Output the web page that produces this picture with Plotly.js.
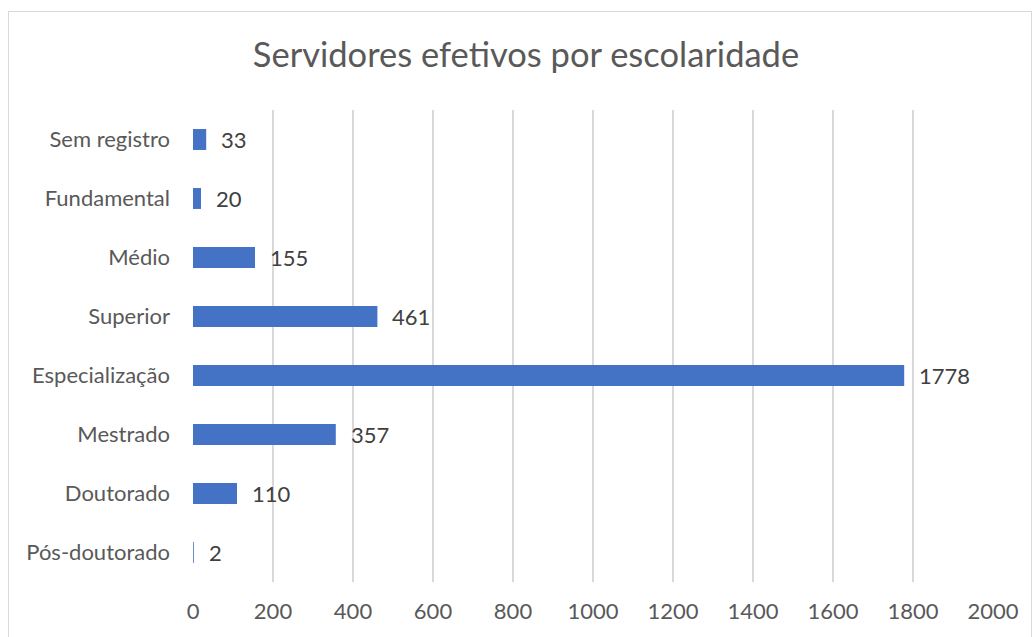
<!DOCTYPE html>
<html>
<head>
<meta charset="utf-8">
<script src="https://cdn.plot.ly/plotly-3.0.1.min.js"></script>
<style>
html,body{margin:0;padding:0;background:#fff;overflow:hidden;width:1034px;height:637px;}
#frame{position:absolute;left:8px;top:11px;width:1022px;height:640px;border:1px solid #d9d9d9;box-sizing:content-box;}
#chart{width:1022px;height:640px;}
</style>
</head>
<body>
<div id="frame"><div id="chart"></div></div>
<script>
const categories = ["Sem registro","Fundamental","Médio","Superior","Especialização","Mestrado","Doutorado","Pós-doutorado"];
const values = [33, 20, 155, 461, 1778, 357, 110, 2];
const xTicks = [0,200,400,600,800,1000,1200,1400,1600,1800,2000];
const titleText = "Servidores efetivos por escolaridade";

const font = "Lato, 'Open Sans', sans-serif";

const trace = {
  type: 'bar',
  orientation: 'h',
  x: values,
  y: categories,
  marker: {color: '#4472c4'},
  hoverinfo: 'x+y'
};

const annotations = values.map((v, i) => ({
  x: v, y: categories[i], xref: 'x', yref: 'y',
  text: String(v), showarrow: false,
  xanchor: 'left', xshift: 13,
  font: {family: font, size: 22, color: '#404040'}
}));

const layout = {
  width: 1022, height: 640,
  margin: {l: 184, r: 38, t: 98, b: 70},
  paper_bgcolor: '#fff', plot_bgcolor: '#fff',
  title: {text: titleText, font: {family: font, size: 34.5, color: '#595959'}, x: 517/1022, xanchor: 'center', xref: 'container', y: 1 - 43/640, yanchor: 'middle', yref: 'container'},
  bargap: 0.645,
  showlegend: false,
  xaxis: {
    range: [0, 2000], tickvals: xTicks, ticktext: xTicks.map(String),
    showgrid: true, gridcolor: '#d9d9d9', gridwidth: 1.5,
    zeroline: false, showline: false, ticks: '',
    tickfont: {family: font, size: 22, color: '#595959'},
    ticklabelstandoff: 14
  },
  yaxis: {
    type: 'category', autorange: 'reversed',
    showgrid: false, zeroline: false, showline: false, ticks: '',
    tickfont: {family: font, size: 22, color: '#595959'},
    ticklabelstandoff: 22
  },
  annotations: annotations
};

Plotly.newPlot('chart', [trace], layout, {displayModeBar: false, staticPlot: true});
</script>
</body>
</html>
